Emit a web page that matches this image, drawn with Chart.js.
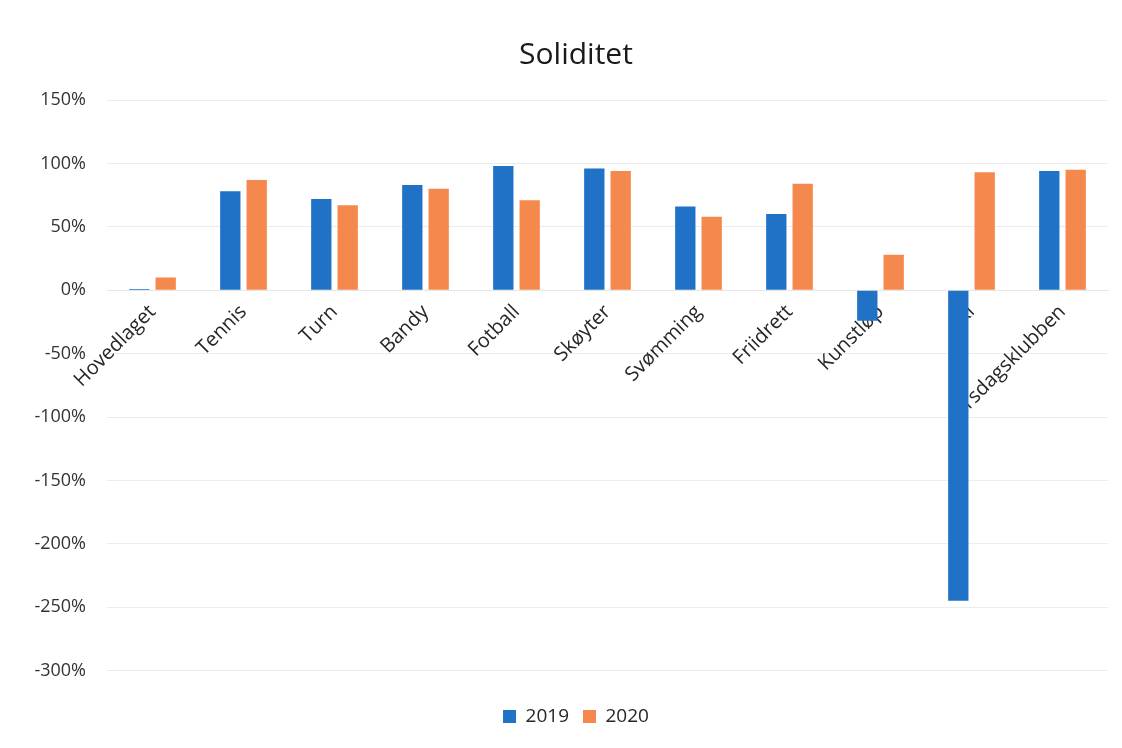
<!DOCTYPE html>
<html>
<head>
<meta charset="utf-8">
<script src="https://cdn.jsdelivr.net/npm/chart.js@4/dist/chart.umd.min.js"></script>
<style>
  html, body { margin: 0; padding: 0; background: #fff; }
  #wrap { width: 1122px; height: 748px; }
</style>
</head>
<body>
<div id="wrap"><canvas id="soliditetChart"></canvas></div>
<script>
const categories = ["Hovedlaget", "Tennis", "Turn", "Bandy", "Fotball", "Skøyter",
  "Svømming", "Friidrett", "Kunstløp", "Ski", "Tirsdagsklubben"];
const values2019 = [1, 78, 72, 83, 98, 96, 66, 60, -24, -245, 94];
const values2020 = [10, 87, 67, 80, 71, 94, 58, 84, 28, 93, 95];
const yTicks = { min: -300, max: 150, step: 50 };

Chart.defaults.font.family = "'Open Sans', 'Noto Sans', sans-serif";
Chart.defaults.color = "#404040";

function renderChart() {
  const ctx = document.getElementById("soliditetChart").getContext("2d");
  new Chart(ctx, {
    type: "bar",
    data: {
      labels: categories,
      datasets: [
        {
          label: "2019",
          data: values2019,
          backgroundColor: "#1f72c6",
          categoryPercentage: 0.58,
          barPercentage: 0.77
        },
        {
          label: "2020",
          data: values2020,
          backgroundColor: "#f5884c",
          categoryPercentage: 0.58,
          barPercentage: 0.77
        }
      ]
    },
    options: {
      responsive: true,
      maintainAspectRatio: false,
      animation: false,
      layout: { padding: { left: 30, right: 0, top: 22, bottom: 12 } },
      plugins: {
        title: {
          display: true,
          text: "Soliditet",
          color: "#1a1a1a",
          font: { size: 30, weight: "normal" },
          padding: { top: 15, bottom: 27 }
        },
        legend: {
          position: "bottom",
          // empty title only used as a spacer above the legend items
          title: { display: true, text: "", font: { size: 2 }, padding: { top: 20, bottom: 0 } },
          labels: {
            boxWidth: 13,
            boxHeight: 13,
            font: { size: 19 },
            color: "#262626",
            padding: 14
          }
        },
        tooltip: { enabled: false }
      },
      scales: {
        x: {
          position: { y: 0 },
          grid: { display: false },
          border: { display: true, color: "#e6e6e6" },
          ticks: {
            autoSkip: false,
            minRotation: 45,
            maxRotation: 45,
            padding: 2,
            font: { size: 20 },
            color: "#262626"
          }
        },
        y: {
          min: yTicks.min,
          max: yTicks.max,
          afterFit: scale => { scale.width = 77; },
          grid: { color: "#ececec", drawTicks: false },
          border: { display: false },
          ticks: {
            stepSize: yTicks.step,
            padding: 21,
            font: { size: 18 },
            color: "#333333",
            callback: v => v + "%"
          }
        },
        // empty right-hand axis, only keeps a margin on the right
        yRight: {
          position: "right",
          afterFit: scale => { scale.width = 14; },
          grid: { display: false },
          border: { display: false },
          ticks: { display: false }
        }
      }
    }
  });
}

window.onload = renderChart;
</script>
</body>
</html>
